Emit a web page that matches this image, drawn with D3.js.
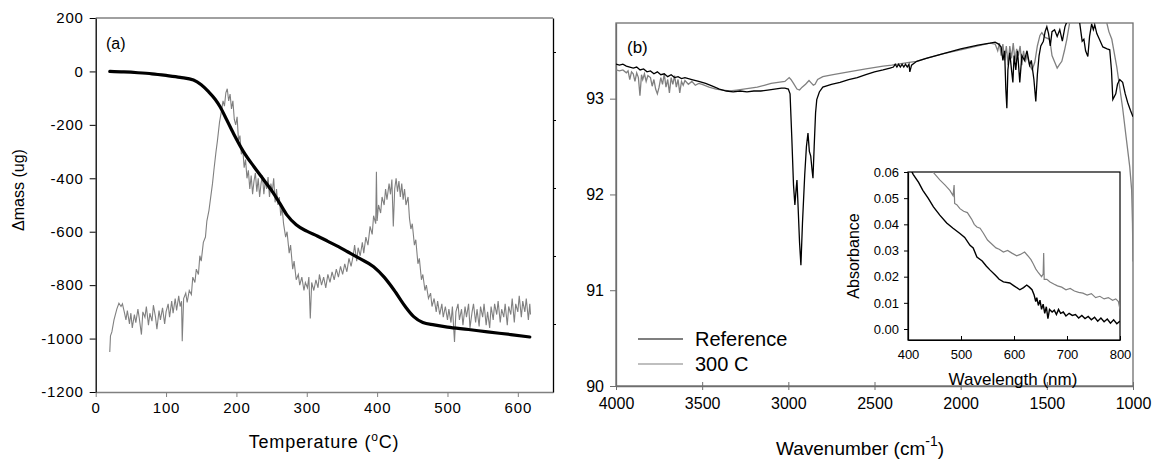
<!DOCTYPE html>
<html>
<head>
<meta charset="utf-8">
<style>
body{ margin:0; background:#ffffff; }
svg text{ font-family: Arial, "Liberation Sans", sans-serif; fill:#000; }
.tick text{ font-size:15px; }
</style>
</head>
<body>
<svg id="chart"></svg>
<script src="https://cdn.jsdelivr.net/npm/d3@7"></script>
<script>
// panel (a) - TGA mass loss (black) and derivative (grey)
var tgaMass = [[20,0],[40,-2],[60,-5],[80,-9],[100,-15],[120,-22],[139,-32],[150,-50],[160,-75],[170,-105],[177,-133],[186,-180],[196,-233],[210,-300],[225,-357],[240,-410],[253,-457],[262,-495],[272,-538],[285,-574],[300,-598],[315,-616],[330,-636],[345,-656],[358,-675],[375,-700],[395,-731],[410,-770],[424,-818],[440,-880],[452,-918],[465,-940],[481,-949],[500,-957],[530,-966],[557,-975],[590,-985],[617,-994]];
var tgaDeriv = [[20,-1050],[21,-990],[23,-975],[26,-930],[30,-890],[33,-868],[36,-880],[38,-870],[41,-905],[43,-930],[45,-895],[48,-945],[50,-905],[52,-960],[55,-910],[57,-940],[60,-890],[62,-925],[65,-985],[67,-900],[70,-920],[72,-880],[75,-950],[77,-905],[80,-935],[82,-875],[85,-920],[87,-965],[90,-895],[92,-930],[95,-885],[98,-945],[100,-900],[103,-870],[105,-920],[108,-860],[110,-905],[113,-850],[115,-895],[118,-840],[120,-880],[122,-860],[123,-1010],[125,-850],[128,-830],[130,-865],[133,-820],[136,-835],[138,-770],[141,-790],[143,-740],[146,-760],[148,-690],[150,-710],[153,-640],[156,-620],[158,-560],[161,-520],[163,-480],[166,-420],[168,-370],[171,-300],[173,-260],[176,-190],[178,-160],[181,-110],[183,-130],[185,-80],[187,-65],[189,-110],[191,-85],[193,-140],[195,-110],[197,-180],[199,-200],[201,-170],[203,-260],[205,-240],[207,-310],[209,-290],[211,-360],[213,-330],[215,-400],[217,-370],[219,-440],[221,-390],[223,-460],[225,-410],[227,-380],[229,-450],[231,-400],[233,-470],[235,-420],[237,-390],[239,-460],[241,-410],[243,-440],[245,-395],[247,-470],[249,-420],[251,-450],[253,-400],[255,-490],[257,-440],[259,-500],[261,-470],[263,-540],[265,-510],[267,-570],[270,-620],[272,-600],[275,-680],[277,-650],[280,-740],[282,-710],[285,-780],[288,-760],[290,-800],[293,-770],[296,-820],[298,-790],[301,-810],[303,-770],[305,-925],[307,-790],[310,-820],[313,-780],[316,-810],[318,-760],[321,-800],[324,-770],[327,-810],[330,-760],[333,-790],[336,-750],[339,-780],[342,-740],[345,-770],[348,-730],[351,-760],[354,-720],[357,-750],[360,-700],[363,-730],[366,-690],[368,-650],[371,-710],[373,-660],[376,-690],[379,-640],[381,-680],[384,-620],[387,-650],[390,-580],[393,-610],[395,-540],[398,-570],[399,-376],[400,-560],[402,-500],[405,-530],[407,-470],[410,-500],[412,-440],[414,-480],[417,-420],[419,-460],[421,-405],[423,-580],[425,-440],[427,-400],[429,-450],[431,-410],[433,-470],[435,-420],[437,-480],[439,-440],[441,-500],[444,-470],[446,-550],[448,-590],[450,-570],[453,-650],[455,-630],[458,-720],[460,-700],[463,-780],[465,-760],[468,-820],[470,-800],[473,-850],[476,-830],[478,-880],[481,-850],[484,-900],[486,-860],[489,-910],[492,-870],[494,-920],[497,-880],[500,-930],[502,-890],[505,-940],[507,-880],[510,-1013],[512,-900],[515,-870],[517,-930],[520,-890],[522,-950],[525,-880],[527,-920],[530,-870],[532,-960],[535,-900],[537,-870],[540,-940],[542,-890],[545,-955],[547,-880],[550,-920],[552,-870],[555,-950],[557,-900],[560,-960],[562,-880],[565,-930],[567,-870],[570,-910],[572,-860],[575,-940],[577,-890],[580,-920],[582,-870],[585,-950],[587,-880],[590,-910],[592,-850],[595,-940],[597,-870],[600,-900],[602,-840],[605,-920],[607,-860],[610,-900],[612,-850],[615,-930],[617,-870],[618,-910]];
var tempTicks = [0,100,200,300,400,500,600];
var massTicks = [-1200,-1000,-800,-600,-400,-200,0,200];
var derivTicks = [1,2,3,4,5];

// panel (b) - FTIR spectra
var irReference = [[4000,93.36],[3980,93.35],[3960,93.36],[3940,93.34],[3920,93.33],[3900,93.32],[3880,93.33],[3860,93.30],[3840,93.31],[3820,93.28],[3800,93.29],[3780,93.26],[3760,93.28],[3740,93.25],[3720,93.26],[3700,93.23],[3680,93.25],[3660,93.22],[3640,93.23],[3620,93.21],[3600,93.22],[3560,93.20],[3520,93.18],[3480,93.16],[3440,93.13],[3400,93.10],[3360,93.08],[3320,93.07],[3280,93.08],[3240,93.07],[3200,93.08],[3160,93.08],[3120,93.09],[3080,93.10],[3040,93.11],[3020,93.11],[3000,93.10],[2990,93.05],[2980,92.6],[2970,92.1],[2962,91.89],[2955,92.05],[2950,92.15],[2944,91.9],[2935,91.5],[2927,91.26],[2918,91.7],[2905,92.2],[2895,92.5],[2886,92.64],[2878,92.45],[2870,92.40],[2862,92.25],[2857,92.17],[2850,92.5],[2842,92.85],[2835,92.99],[2820,93.07],[2800,93.12],[2750,93.15],[2700,93.17],[2650,93.20],[2600,93.22],[2550,93.25],[2500,93.28],[2450,93.30],[2410,93.32],[2390,93.33],[2380,93.36],[2370,93.33],[2360,93.36],[2350,93.33],[2340,93.36],[2330,93.33],[2320,93.36],[2310,93.33],[2300,93.36],[2295,93.28],[2285,93.35],[2255,93.39],[2200,93.42],[2100,93.47],[2000,93.52],[1900,93.56],[1830,93.58],[1800,93.59],[1780,93.57],[1765,93.54],[1755,93.40],[1745,93.50],[1738,93.10],[1732,92.90],[1726,93.30],[1715,93.48],[1705,93.30],[1697,93.17],[1690,93.45],[1680,93.30],[1670,93.50],[1657,93.17],[1645,93.45],[1630,93.40],[1615,93.50],[1600,93.35],[1590,93.40],[1575,93.20],[1564,92.97],[1555,93.25],[1545,93.45],[1535,93.55],[1520,93.60],[1510,93.70],[1500,93.75],[1490,93.68],[1480,93.55],[1470,93.70],[1455,93.72],[1440,93.65],[1425,93.72],[1410,93.60],[1395,93.75],[1380,93.82],[1367,93.85],[1340,93.85],[1310,93.80],[1295,93.60],[1285,93.62],[1275,93.50],[1262,93.44],[1252,93.65],[1240,93.78],[1230,93.72],[1222,93.77],[1210,93.68],[1195,93.62],[1175,93.54],[1150,93.52],[1135,93.51],[1125,93.30],[1117,92.99],[1100,93.05],[1090,93.15],[1077,93.20],[1060,93.17],[1045,93.05],[1031,92.96],[1015,92.88],[1000,92.81]];
var ir300C = [[4000,93.30],[3980,93.29],[3960,93.30],[3940,93.27],[3930,93.29],[3920,93.20],[3910,93.28],[3900,93.26],[3890,93.18],[3880,93.27],[3870,93.22],[3861,93.03],[3852,93.25],[3845,93.20],[3835,93.26],[3825,93.18],[3815,93.24],[3800,93.22],[3790,93.13],[3780,93.20],[3770,93.10],[3760,93.05],[3750,93.12],[3740,93.22],[3730,93.15],[3720,93.26],[3710,93.12],[3700,93.20],[3690,93.06],[3680,93.22],[3670,93.15],[3660,93.24],[3650,93.12],[3640,93.20],[3630,93.06],[3620,93.18],[3610,93.14],[3600,93.19],[3580,93.15],[3560,93.18],[3540,93.14],[3520,93.16],[3500,93.15],[3460,93.12],[3420,93.10],[3380,93.09],[3340,93.08],[3300,93.09],[3260,93.10],[3220,93.11],[3180,93.12],[3140,93.14],[3100,93.16],[3060,93.17],[3020,93.18],[2995,93.22],[2985,93.20],[2970,93.16],[2950,93.10],[2935,93.09],[2920,93.12],[2900,93.15],[2880,93.19],[2870,93.17],[2855,93.14],[2845,93.15],[2830,93.20],[2800,93.23],[2740,93.25],[2650,93.28],[2550,93.31],[2450,93.34],[2400,93.35],[2300,93.38],[2255,93.39],[2200,93.42],[2100,93.47],[2000,93.51],[1900,93.55],[1830,93.58],[1800,93.57],[1785,93.50],[1775,93.58],[1765,93.45],[1755,93.57],[1745,93.40],[1735,93.55],[1725,93.35],[1715,93.55],[1705,93.42],[1695,93.58],[1685,93.40],[1675,93.52],[1665,93.45],[1655,93.55],[1645,93.35],[1635,93.50],[1625,93.38],[1615,93.46],[1600,93.35],[1585,93.30],[1570,93.38],[1555,93.55],[1540,93.66],[1529,93.69],[1510,93.64],[1483,93.62],[1470,93.45],[1454,93.38],[1440,93.32],[1425,93.36],[1413,93.39],[1398,93.50],[1384,93.62],[1367,93.80],[1350,93.95],[1300,94.0],[1250,94.0],[1200,93.95],[1160,93.85],[1140,93.70],[1123,93.62],[1094,93.33],[1060,92.90],[1040,92.60],[1019,92.29],[1008,92.05],[1003,91.70],[1000,91.30]];
var waveTicks = [4000,3500,3000,2500,2000,1500,1000];
var transTicks = [90,91,92,93];
var seriesNames = ["Reference","300 C"];

// inset - UV/vis absorbance
var uvReference = [[400,0.063],[410,0.059],[420,0.056],[428,0.053],[438,0.050],[448,0.0467],[460,0.0435],[473,0.0405],[485,0.0385],[498,0.0365],[507,0.035],[517,0.032],[523,0.031],[530,0.0275],[540,0.026],[548,0.024],[555,0.0225],[565,0.0205],[572,0.019],[580,0.018],[592,0.0176],[600,0.0165],[611,0.015],[618,0.0158],[624,0.0168],[629,0.016],[634,0.015],[638,0.013],[641,0.0105],[643,0.012],[646,0.009],[649,0.011],[652,0.0075],[655,0.0095],[658,0.006],[661,0.0085],[664,0.004],[667,0.0075],[672,0.0065],[676,0.0072],[680,0.0055],[684,0.0075],[688,0.006],[693,0.0065],[698,0.005],[704,0.006],[710,0.0052],[716,0.0055],[722,0.0042],[728,0.0052],[734,0.004],[740,0.0048],[746,0.0035],[752,0.0045],[758,0.003],[764,0.0042],[770,0.0028],[776,0.0038],[782,0.0022],[788,0.0035],[794,0.002],[800,0.003]];
var uv300C = [[440,0.062],[447,0.060],[460,0.057],[470,0.055],[479,0.053],[485,0.051],[487,0.055],[488,0.048],[492,0.0475],[498,0.046],[505,0.045],[512,0.0445],[520,0.042],[525,0.040],[530,0.039],[536,0.0385],[542,0.0367],[550,0.034],[558,0.0325],[566,0.031],[572,0.0305],[580,0.0294],[588,0.030],[596,0.029],[605,0.028],[612,0.0285],[620,0.0294],[626,0.028],[632,0.0265],[636,0.025],[641,0.023],[646,0.0215],[652,0.020],[655,0.021],[656,0.029],[657,0.019],[662,0.019],[668,0.018],[675,0.0172],[682,0.0165],[690,0.016],[698,0.015],[706,0.0155],[714,0.0145],[722,0.014],[730,0.0137],[738,0.013],[746,0.0135],[754,0.012],[762,0.0125],[770,0.0115],[778,0.012],[786,0.011],[792,0.0115],[797,0.0105],[800,0.0075]];
var lambdaTicks = [400,500,600,700,800];
var absTicks = [0,0.01,0.02,0.03,0.04,0.05,0.06];

var W = 1153, H = 459;
var grey = "#808080";
var frame = "#6e6e6e";
var plain = function(d){ return String(d); };

var svg = d3.select("#chart").attr("width", W).attr("height", H);

var defs = svg.append("defs");
function clip(id, x0, y0, x1, y1){
    defs.append("clipPath").attr("id", id).append("rect")
        .attr("x", x0).attr("y", y0).attr("width", x1 - x0).attr("height", y1 - y0);
}

/* ---------- panel (a) ---------- */
var ax = d3.scaleLinear().domain([0, 650]).range([95.7, 553]);
var ay = d3.scaleLinear().domain([-1200, 200]).range([392, 18]);
var ay2 = d3.scaleLinear().domain([0, 5.5]).range([392, 18]);

var a = svg.append("g");
a.append("line").attr("x1", ax(0)).attr("x2", ax(650)).attr("y1", ay(200)).attr("y2", ay(200))
    .attr("stroke", grey).attr("stroke-width", 1.5);

a.append("g").attr("transform", "translate(0," + ay(-1200) + ")")
    .call(d3.axisBottom(ax).tickValues(tempTicks).tickSize(5).tickSizeOuter(0).tickPadding(5).tickFormat(plain))
    .call(function(g){
        g.select(".domain").attr("stroke", grey).attr("stroke-width", 1.5);
        g.selectAll(".tick line").attr("stroke", grey);
        g.selectAll(".tick text").attr("letter-spacing", "0.8px");
    });
a.append("g").attr("transform", "translate(" + ax(0) + ",0)")
    .call(d3.axisLeft(ay).tickValues(massTicks).tickSize(6).tickSizeOuter(0).tickPadding(6).tickFormat(plain))
    .call(function(g){
        g.select(".domain").attr("stroke", "#000").attr("stroke-width", 1.3);
        g.selectAll(".tick line").attr("stroke", "#000");
        g.selectAll(".tick text").attr("letter-spacing", "0.8px");
    });
a.append("g").attr("transform", "translate(" + ax(650) + ",0)")
    .call(d3.axisRight(ay2).tickValues(derivTicks).tickSize(3).tickSizeOuter(0).tickFormat(""))
    .call(function(g){
        g.select(".domain").attr("stroke", "#000").attr("stroke-width", 1.3);
        g.selectAll(".tick line").attr("stroke", "#000");
    });

var aLine = d3.line().x(function(d){ return ax(d[0]); }).y(function(d){ return ay(d[1]); });
a.append("path").datum(tgaDeriv).attr("d", aLine)
    .attr("fill", "none").attr("stroke", grey).attr("stroke-width", 1.1);
a.append("path").datum(tgaMass).attr("d", aLine.curve(d3.curveMonotoneX))
    .attr("fill", "none").attr("stroke", "#000").attr("stroke-width", 3.2).attr("stroke-linecap", "round");

a.append("text").attr("x", 106).attr("y", 49).style("font-size", "16px").text("(a)");
a.append("text").attr("transform", "translate(24,190) rotate(-90)").attr("text-anchor", "middle")
    .style("font-size", "16px").text("\u0394mass (ug)");
var tLab = a.append("text").attr("x", 324).attr("y", 448).attr("text-anchor", "middle")
    .style("font-size", "18px").attr("letter-spacing", "0.8px");
tLab.append("tspan").text("Temperature (");
tLab.append("tspan").attr("dy", -7).style("font-size", "12px").text("o");
tLab.append("tspan").attr("dy", 7).text("C)");

/* ---------- panel (b) ---------- */
var bx = d3.scaleLinear().domain([4000, 1000]).range([616, 1133]);
var by = d3.scaleLinear().domain([90, 93.79]).range([386, 23]);
clip("clipB", 616, 23, 1133, 386);

var b = svg.append("g");
b.append("rect").attr("x", 616).attr("y", 23).attr("width", 517).attr("height", 363)
    .attr("fill", "none").attr("stroke", frame).attr("stroke-width", 1.3);
b.append("g").attr("transform", "translate(0," + by(90) + ")")
    .call(d3.axisBottom(bx).tickValues(waveTicks).tickSize(4).tickSizeOuter(0).tickPadding(8).tickFormat(plain))
    .call(function(g){
        g.select(".domain").attr("stroke", frame).attr("stroke-width", 1.3);
        g.selectAll(".tick line").attr("stroke", frame).attr("y1", -4);
        g.selectAll(".tick text").style("font-size", "16px");
    });
b.append("g").attr("transform", "translate(616,0)")
    .call(d3.axisLeft(by).tickValues(transTicks).tickSize(6).tickSizeOuter(0).tickPadding(6).tickFormat(plain))
    .call(function(g){
        g.select(".domain").attr("stroke", frame).attr("stroke-width", 1.3);
        g.selectAll(".tick line").attr("stroke", frame);
        g.selectAll(".tick text").style("font-size", "16px");
    });

var bLine = d3.line().x(function(d){ return bx(d[0]); }).y(function(d){ return by(d[1]); });
var bPlot = b.append("g").attr("clip-path", "url(#clipB)");
bPlot.append("path").datum(ir300C).attr("d", bLine)
    .attr("fill", "none").attr("stroke", grey).attr("stroke-width", 1.3);
bPlot.append("path").datum(irReference).attr("d", bLine)
    .attr("fill", "none").attr("stroke", "#000").attr("stroke-width", 1.3);

b.append("text").attr("x", 627).attr("y", 53).style("font-size", "17px").text("(b)");
var wLab = b.append("text").attr("x", 860).attr("y", 455).attr("text-anchor", "middle").style("font-size", "19px");
wLab.append("tspan").text("Wavenumber (cm");
wLab.append("tspan").attr("dy", -9).style("font-size", "14px").text("-1");
wLab.append("tspan").attr("dy", 9).text(")");

var legend = b.selectAll(".leg").data(seriesNames).enter().append("g")
    .attr("transform", function(d, i){ return "translate(638," + (339 + i * 25) + ")"; });
legend.append("line").attr("x1", 0).attr("x2", 45)
    .attr("stroke", function(d, i){ return i == 0 ? "#000" : grey; }).attr("stroke-width", 1.2);
legend.append("text").attr("x", 57).attr("y", 7).style("font-size", "20px").text(function(d){ return d; });

/* ---------- inset ---------- */
var ix = d3.scaleLinear().domain([400, 800]).range([908, 1120]);
var iy = d3.scaleLinear().domain([-0.0042, 0.06]).range([340, 172]);
clip("clipI", 908, 172, 1120, 340);

var ins = svg.append("g");
ins.append("rect").attr("x", 908).attr("y", 172).attr("width", 212).attr("height", 168)
    .attr("fill", "#fff").attr("stroke", "#000").attr("stroke-width", 1.2);
ins.append("g").attr("transform", "translate(0,340)")
    .call(d3.axisBottom(ix).tickValues(lambdaTicks).tickSize(-4).tickSizeOuter(0).tickPadding(10).tickFormat(plain))
    .call(function(g){
        g.select(".domain").attr("stroke", "#000").attr("stroke-width", 1.2);
        g.selectAll(".tick text").style("font-size", "13px");
    });
ins.append("g").attr("transform", "translate(908,0)")
    .call(d3.axisLeft(iy).tickValues(absTicks).tickSize(4).tickSizeOuter(0).tickPadding(5).tickFormat(function(d){ return d.toFixed(2); }))
    .call(function(g){
        g.select(".domain").attr("stroke", "#000").attr("stroke-width", 1.2);
        g.selectAll(".tick text").style("font-size", "13px");
    });

var iLine = d3.line().x(function(d){ return ix(d[0]); }).y(function(d){ return iy(d[1]); });
var iPlot = ins.append("g").attr("clip-path", "url(#clipI)");
iPlot.append("path").datum(uv300C).attr("d", iLine)
    .attr("fill", "none").attr("stroke", grey).attr("stroke-width", 1.2);
iPlot.append("path").datum(uvReference).attr("d", iLine)
    .attr("fill", "none").attr("stroke", "#000").attr("stroke-width", 1.4);

ins.append("text").attr("x", 1013).attr("y", 385).attr("text-anchor", "middle")
    .style("font-size", "17px").text("Wavelength (nm)");
ins.append("text").attr("transform", "translate(859,256) rotate(-90)").attr("text-anchor", "middle")
    .style("font-size", "16px").text("Absorbance");
</script>
</body>
</html>
